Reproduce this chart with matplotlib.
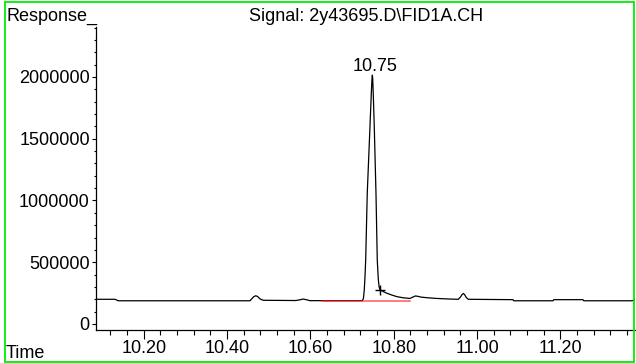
import matplotlib
matplotlib.use("Agg")
import matplotlib.pyplot as plt
from matplotlib.patches import Rectangle
from matplotlib.ticker import MultipleLocator, FormatStrFormatter

plt.rcParams['font.family'] = ['Liberation Sans', 'DejaVu Sans']

# FID signal, time (min) vs response
time = [10.085, 10.131, 10.139, 10.455, 10.459, 10.464, 10.469, 10.474,
        10.479, 10.487, 10.565, 10.575, 10.583, 10.591, 10.599, 10.7245,
        10.7272, 10.7293, 10.7310, 10.7327, 10.7365, 10.7430, 10.7460,
        10.7478, 10.7487, 10.7496, 10.7510, 10.7533, 10.7574, 10.7605,
        10.7630, 10.7650, 10.7670, 10.775, 10.783, 10.795, 10.807, 10.823,
        10.839, 10.846, 10.852, 10.858, 10.865, 10.879, 10.903, 10.935,
        10.955, 10.960, 10.964, 10.967, 10.970, 10.974, 10.979, 11.086,
        11.088, 11.182, 11.184, 11.254, 11.256, 11.372, 11.379]
response = [200000, 200000, 188000, 188000, 203000, 221000, 229000, 221000,
            203000, 192000, 190000, 196000, 202000, 196000, 189000, 189000,
            205000, 275000, 380000, 518000, 1061000, 1598000, 1850000,
            1985000, 2015000, 1985000, 1850000, 1598000, 1061000, 518000,
            360000, 300000, 278000, 262000, 250000, 235000, 222000, 212000,
            207000, 218000, 227000, 224000, 218000, 213000, 207000, 202000,
            200000, 218000, 238000, 247000, 238000, 215000, 200000, 197000,
            188000, 188000, 197000, 197000, 188000, 188000, 197000]

peak_rt = 10.75
peak_label = "10.75"
peak_top = 2015000
peak_end = (10.767, 275000)
baseline_t = [10.627, 10.839]
baseline_v = [188000, 188000]

fig = plt.figure(figsize=(6.36, 3.63), dpi=100)
ax = fig.add_axes([95.7 / 636, 33 / 363, (635 - 95.7) / 636, (336.3 - 33) / 363])

ax.plot(time, response, color='black', lw=0.9)
ax.plot(baseline_t, baseline_v, color='#ff2020', lw=1.1, alpha=0.75)
ax.plot(*peak_end, marker='+', color='black', ms=7, mew=1.0)
ax.annotate(peak_label, (peak_rt, peak_top), xytext=(1.5, 3),
            textcoords='offset points', ha='center', va='baseline', fontsize=13)

ax.set_xlim(10.0848, 11.379)
ax.set_ylim(-48600, 2407000)

ax.xaxis.set_major_locator(MultipleLocator(0.2))
ax.xaxis.set_minor_locator(MultipleLocator(0.04))
ax.xaxis.set_major_formatter(FormatStrFormatter('%.2f'))
ax.yaxis.set_major_locator(MultipleLocator(500000))
ax.yaxis.set_minor_locator(MultipleLocator(100000))
ax.yaxis.set_major_formatter(FormatStrFormatter('%d'))

for s in ['top', 'right']:
    ax.spines[s].set_visible(False)
for s in ['left', 'bottom']:
    ax.spines[s].set_linewidth(0.9)

ax.tick_params(axis='x', which='major', length=6.5, width=0.8, pad=0.8, labelsize=13)
ax.tick_params(axis='x', which='minor', length=3.6, width=0.8)
ax.tick_params(axis='y', which='major', length=3, width=0.8, pad=1.2, labelsize=13)
ax.tick_params(axis='y', which='minor', length=1.5, width=0.8)

fig.text(6 / 636, (363 - 20.7) / 363, "Response_", va='baseline', fontsize=13)
fig.text(366.5 / 636, (363 - 20.7) / 363, "Signal: 2y43695.D\\FID1A.CH",
         ha='center', va='baseline', fontsize=13)
fig.text(6 / 636, 5 / 363, "Time", va='baseline', fontsize=13)

fig.patches.append(Rectangle((5 / 636, 1 / 363), 629 / 636, 360.3 / 363,
                             transform=fig.transFigure, fill=False,
                             edgecolor='#00ee00', lw=1.3))

fig.savefig("out.png", dpi=100)
